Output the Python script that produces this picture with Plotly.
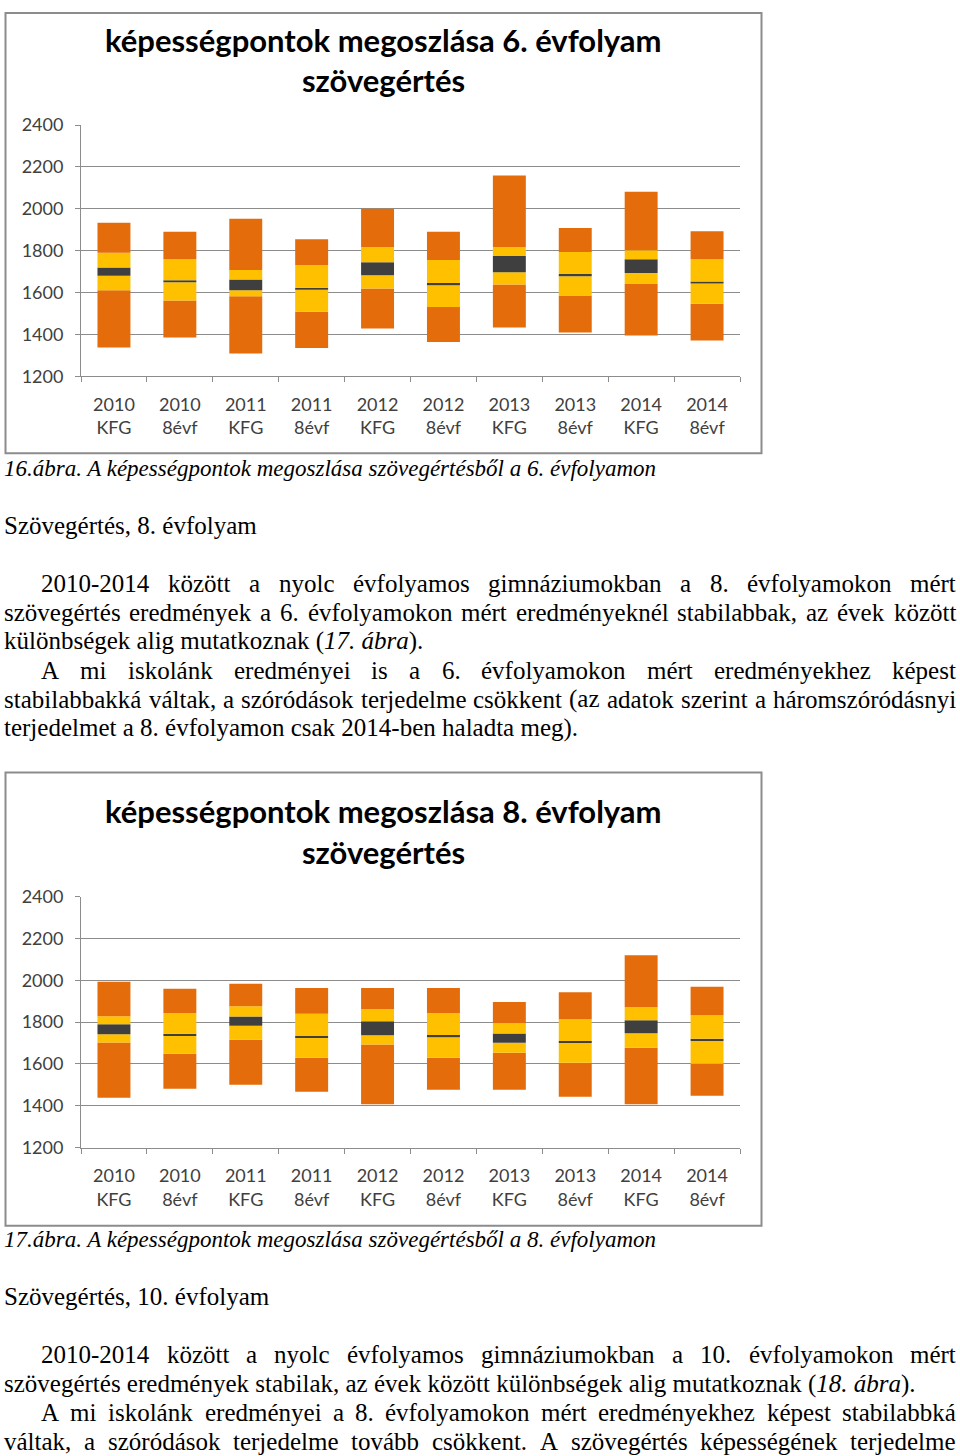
import plotly.graph_objects as go
import unicodedata

W = 960
FH = 1456
OFF = 12.0        # observed offset of the page above the figure in the photograph
VS = 0.9843       # observed vertical scale of the photograph

categories = ["2010<br>KFG", "2010<br>8évf", "2011<br>KFG", "2011<br>8évf", "2012<br>KFG",
              "2012<br>8évf", "2013<br>KFG", "2013<br>8évf", "2014<br>KFG", "2014<br>8évf"]

# Chart 1: 6. évfolyam szövegértés
g6_min = [1337, 1385, 1308, 1335, 1428, 1364, 1433, 1409, 1395, 1371]
g6_q1 = [1611, 1562, 1582, 1508, 1619, 1531, 1638, 1586, 1643, 1546]
g6_cil = [1680, 1649, 1611, 1613, 1683, 1635, 1697, 1678, 1693, 1643]
g6_cih = [1720, 1659, 1662, 1623, 1744, 1645, 1774, 1688, 1759, 1653]
g6_q3 = [1790, 1759, 1707, 1731, 1817, 1755, 1818, 1793, 1802, 1759]
g6_max = [1933, 1890, 1952, 1855, 2000, 1890, 2159, 1908, 2081, 1893]

# Chart 2: 8. évfolyam szövegértés
g8_min = [1439, 1482, 1501, 1467, 1408, 1477, 1477, 1443, 1408, 1448]
g8_q1 = [1702, 1649, 1716, 1630, 1693, 1630, 1654, 1606, 1678, 1601]
g8_cil = [1742, 1734, 1782, 1724, 1737, 1728, 1701, 1700, 1747, 1710]
g8_cih = [1790, 1744, 1827, 1734, 1804, 1738, 1745, 1710, 1809, 1720]
g8_q3 = [1828, 1844, 1876, 1840, 1863, 1844, 1795, 1814, 1872, 1833]
g8_max = [1993, 1959, 1983, 1963, 1963, 1963, 1896, 1943, 2119, 1969]

y_ticks = [1200, 1400, 1600, 1800, 2000, 2200, 2400]

ORANGE = "#E46C0A"
YELLOW = "#FFC000"
DARK = "#3F3F3F"
GRID = "#8C8C8C"
TICKTXT = "#404040"

fig = go.Figure()


def add_chart(ax, mn, q1, cil, cih, q3, mx):
    segs = [(mn, q1, ORANGE), (q1, cil, YELLOW), (cil, cih, DARK), (cih, q3, YELLOW), (q3, mx, ORANGE)]
    for lo, hi, col in segs:
        fig.add_trace(go.Bar(
            x=categories, y=[h - l for l, h in zip(lo, hi)], base=lo,
            width=0.5, marker=dict(color=col, line=dict(width=0)),
            xaxis="x" + ax, yaxis="y" + ax, hoverinfo="skip", showlegend=False))


add_chart("", g6_min, g6_q1, g6_cil, g6_cih, g6_q3, g6_max)
add_chart("2", g8_min, g8_q1, g8_cil, g8_cih, g8_q3, g8_max)


def px_x(p):
    return p / W


def px_y(p):
    yf = (p - OFF) / VS
    yf = min(max(yf, 1.0), FH - 1.0)
    return 1 - yf / FH


tickfont = dict(family="Lato", size=18, color=TICKTXT)


def xaxis_def(anchor):
    return dict(domain=[px_x(81), px_x(740)], anchor=anchor, type="category",
                showgrid=False, showline=True, linecolor=GRID, linewidth=1,
                ticks="outside", tickson="boundaries", ticklen=5, tickcolor=GRID,
                tickfont=tickfont, ticklabelstandoff=12, fixedrange=True)


def yaxis_def(anchor, top, bottom):
    return dict(domain=[px_y(bottom), px_y(top)], anchor=anchor, range=[1200, 2400],
                tickvals=y_ticks, showgrid=True, gridcolor=GRID, gridwidth=1,
                showline=True, linecolor=GRID, linewidth=1, ticks="outside",
                ticklen=5, tickcolor=GRID, zeroline=False, tickfont=tickfont,
                ticklabelstandoff=8, fixedrange=True)


annotations = []
shapes = []

# chart borders
for top, bottom in [(1, 453), (772, 1225)]:
    shapes.append(dict(type="rect", xref="paper", yref="paper",
                       x0=px_x(5.5), x1=px_x(761.5), y0=px_y(bottom), y1=px_y(top),
                       line=dict(color=GRID, width=2), fillcolor="rgba(0,0,0,0)", layer="below"))

# chart titles
for (y1, y2, g) in [(40, 80, "6"), (811, 851, "8")]:
    annotations.append(dict(text="<b>képességpontok megoszlása %s. évfolyam</b>" % g,
                            x=px_x(383), y=px_y(y1), xref="paper", yref="paper",
                            xanchor="center", yanchor="middle", showarrow=False,
                            font=dict(family="Lato", size=31, color="#000000")))
    annotations.append(dict(text="<b>szövegértés</b>",
                            x=px_x(383), y=px_y(y2), xref="paper", yref="paper",
                            xanchor="center", yanchor="middle", showarrow=False,
                            font=dict(family="Lato", size=31, color="#000000")))

# Times New Roman (Liberation Serif) advance widths /1000 em
TNR = {' ': 250, 'a': 444, 'b': 500, 'c': 444, 'd': 500, 'e': 444, 'f': 333, 'g': 500, 'h': 500,
       'i': 278, 'j': 278, 'k': 500, 'l': 278, 'm': 778, 'n': 500, 'o': 500, 'p': 500, 'q': 500,
       'r': 333, 's': 389, 't': 278, 'u': 500, 'v': 500, 'w': 722, 'x': 500, 'y': 500, 'z': 444,
       'A': 722, 'B': 667, 'C': 667, 'D': 722, 'E': 611, 'F': 556, 'G': 722, 'H': 722, 'I': 333,
       'K': 722, 'L': 611, 'M': 889, 'N': 722, 'O': 722, 'P': 556, 'S': 556, 'T': 611,
       '.': 250, ',': 250, '-': 333, '(': 333, ')': 333}
for d in "0123456789":
    TNR[d] = 500

BODY = 25
SERIF = "Liberation Serif"


def text_width(word, size):
    t = 0
    for ch in word:
        b = unicodedata.normalize("NFD", ch)[0]
        t += TNR.get(b, 500)
    return t * size / 1000.0


def plain_line(text, x, y, size=BODY):
    annotations.append(dict(text=text, x=px_x(x), y=px_y(y), xref="paper", yref="paper",
                            xanchor="left", yanchor="middle", showarrow=False,
                            borderpad=0, borderwidth=0,
                            font=dict(family=SERIF, size=size, color="#000000")))


def justified_line(text, left, right, y, size=BODY):
    words = text.split(" ")
    widths = [text_width(w, size) for w in words]
    gap = (right - left - sum(widths)) / (len(words) - 1)
    x = left
    for w, wd in zip(words, widths):
        plain_line(w, x, y, size)
        x += wd + gap


# captions
plain_line("<i>16.ábra. A képességpontok megoszlása szövegértésből a 6. évfolyamon</i>", 4, 468, 23)
plain_line("<i>17.ábra. A képességpontok megoszlása szövegértésből a 8. évfolyamon</i>", 4, 1239, 23)

# section 1
plain_line("Szövegértés, 8. évfolyam", 4, 525)
justified_line("2010-2014 között a nyolc évfolyamos gimnáziumokban a 8. évfolyamokon mért", 41, 956, 583)
justified_line("szövegértés eredmények a 6. évfolyamokon mért eredményeknél stabilabbak, az évek között", 4, 956, 612)
plain_line("különbségek alig mutatkoznak (<i>17. ábra</i>).", 4, 641)
justified_line("A mi iskolánk eredményei is a 6. évfolyamokon mért eredményekhez képest", 41, 956, 670)
justified_line("stabilabbakká váltak, a szóródások terjedelme csökkent (az adatok szerint a háromszóródásnyi", 4, 956, 699)
plain_line("terjedelmet a 8. évfolyamon csak 2014-ben haladta meg).", 4, 728)

# section 2
plain_line("Szövegértés, 10. évfolyam", 4, 1296)
justified_line("2010-2014 között a nyolc évfolyamos gimnáziumokban a 10. évfolyamokon mért", 41, 956, 1354)
plain_line("szövegértés eredmények stabilak, az évek között különbségek alig mutatkoznak (<i>18. ábra</i>).", 4, 1383)
justified_line("A mi iskolánk eredményei a 8. évfolyamokon mért eredményekhez képest stabilabbká", 41, 956, 1412)
justified_line("váltak, a szóródások terjedelme tovább csökkent. A szövegértés képességének terjedelme", 4, 956, 1441)

fig.update_layout(
    width=W, height=FH, autosize=False,
    margin=dict(l=0, r=0, t=0, b=0, pad=0),
    paper_bgcolor="white", plot_bgcolor="white",
    barmode="overlay", showlegend=False,
    xaxis=xaxis_def("y"), yaxis=yaxis_def("x", 125, 376),
    xaxis2=xaxis_def("y2"), yaxis2=yaxis_def("x2", 896, 1147),
    annotations=annotations, shapes=shapes,
)

fig.write_html("out.html")
